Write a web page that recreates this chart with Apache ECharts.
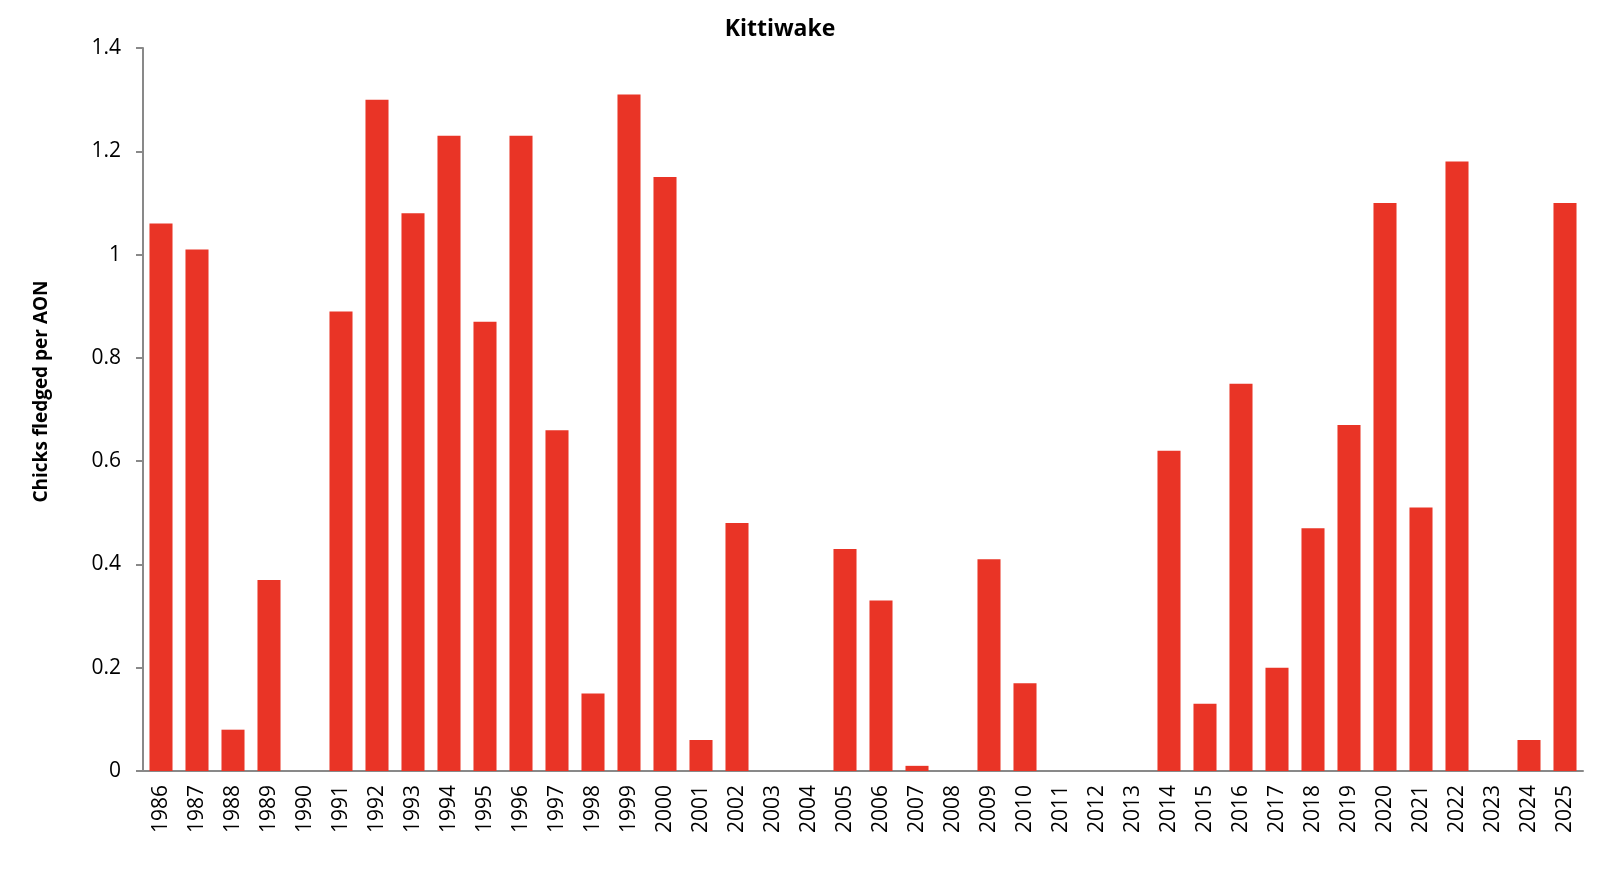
<!DOCTYPE html>
<html>
  <head>
    <meta charset="utf-8">
    <title>Kittiwake</title>
  </head>
  <body style="margin:0;">
    <div id="main" style="width: 1602px;height:870px;"></div>
  </body>
  <script type="text/javascript" src="https://cdn.jsdelivr.net/npm/echarts@6/dist/echarts.min.js"></script>
  <script type="text/javascript">
      // years on the x axis
      var years = [
          '1986', '1987', '1988', '1989', '1990', '1991', '1992', '1993', '1994', '1995',
          '1996', '1997', '1998', '1999', '2000', '2001', '2002', '2003', '2004', '2005',
          '2006', '2007', '2008', '2009', '2010', '2011', '2012', '2013', '2014', '2015',
          '2016', '2017', '2018', '2019', '2020', '2021', '2022', '2023', '2024', '2025'
      ];

      // chicks fledged per AON
      var chicks = [
          1.06, 1.01, 0.08, 0.37, 0, 0.89, 1.30, 1.08, 1.23, 0.87,
          1.23, 0.66, 0.15, 1.31, 1.15, 0.06, 0.48, 0, 0, 0.43,
          0.33, 0.01, 0, 0.41, 0.17, 0, 0, 0, 0.62, 0.13,
          0.75, 0.20, 0.47, 0.67, 1.10, 0.51, 1.18, 0, 0.06, 1.10
      ];

      var yTicks = [0, 0.2, 0.4, 0.6, 0.8, 1, 1.2, 1.4];

      var axisGrey = '#898989';
      var font = 'Open Sans';

      var myChart = echarts.init(document.getElementById('main'));

      myChart.setOption({
          animation: false,
          title: {
              text: 'Kittiwake',
              left: 775,
              textAlign: 'center',
              top: 13,
              textStyle: {
                  fontFamily: font,
                  fontSize: 23,
                  fontWeight: 'bold',
                  color: '#000'
              }
          },
          grid: {
              left: 143,
              right: 19,
              top: 48,
              bottom: 99,
              containLabel: false
          },
          xAxis: {
              type: 'category',
              data: years,
              axisLine: { lineStyle: { color: axisGrey, width: 2 } },
              axisTick: { length: 8, lineStyle: { color: axisGrey, width: 2 } },
              axisLabel: {
                  rotate: 90,
                  interval: 0,
                  margin: 14,
                  fontFamily: font,
                  fontSize: 21,
                  color: '#000'
              }
          },
          yAxis: {
              type: 'value',
              min: yTicks[0],
              max: yTicks[yTicks.length - 1],
              interval: 0.2,
              name: 'Chicks fledged per AON',
              nameLocation: 'middle',
              nameGap: 92,
              nameTextStyle: {
                  fontFamily: font,
                  fontSize: 19,
                  fontWeight: 'bold',
                  color: '#000',
                  padding: [0, 0, 0, 36]
              },
              splitLine: { show: false },
              axisLine: { show: true, lineStyle: { color: axisGrey, width: 2 } },
              axisTick: { show: true, length: 7, lineStyle: { color: axisGrey, width: 2 } },
              axisLabel: {
                  margin: 22,
                  fontFamily: font,
                  fontSize: 21,
                  color: '#000',
                  formatter: function (v) { return String(+v.toFixed(1)); }
              }
          },
          series: [{
              name: 'Chicks fledged per AON',
              type: 'bar',
              data: chicks,
              barWidth: '64%',
              itemStyle: { color: '#E93426' }
          }]
      });
  </script>
</html>
